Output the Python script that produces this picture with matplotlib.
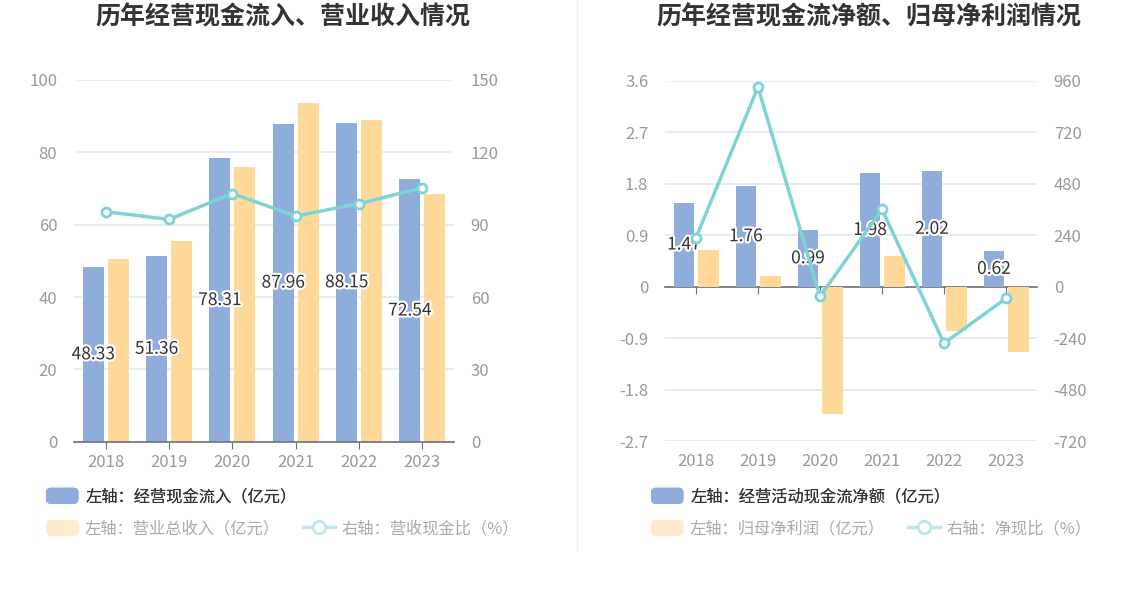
import matplotlib
matplotlib.use("Agg")
import matplotlib.pyplot as plt
import matplotlib.patheffects as pe
from matplotlib.patches import Patch, FancyBboxPatch
from matplotlib.lines import Line2D
from matplotlib.legend_handler import HandlerPatch
import numpy as np

plt.rcParams['font.family'] = ['Noto Sans CJK SC', 'DejaVu Sans']

years = ['2018', '2019', '2020', '2021', '2022', '2023']

# Left chart
cash_inflow = [48.33, 51.36, 78.31, 87.96, 88.15, 72.54]       # 亿元
revenue = [50.4, 55.5, 75.9, 93.6, 88.9, 68.6]                 # 亿元
cash_ratio = [95.4, 92.2, 102.9, 93.6, 98.7, 105.3]            # %

# Right chart
op_cash_net = [1.47, 1.76, 0.99, 1.98, 2.02, 0.62]             # 亿元
net_profit = [0.636, 0.187, -2.23, 0.54, -0.77, -1.14]         # 亿元
net_cash_ratio = [228, 930, -46, 360, -264, -55]               # %

left_ticks_l = [0, 20, 40, 60, 80, 100]
right_ticks_l = [0, 30, 60, 90, 120, 150]
left_ticks_r = [-2.7, -1.8, -0.9, 0, 0.9, 1.8, 2.7, 3.6]
right_ticks_r = [-720, -480, -240, 0, 240, 480, 720, 960]

BLUE = '#8FADDB'
ORANGE = '#FFD99A'
TEAL = '#7ED4D4'
GRID = '#E3E8F2'
TICKC = '#999999'
AXC = '#6E7079'

W, H = 1148, 589
fig = plt.figure(figsize=(W / 100, H / 100), dpi=100)
fig.patch.set_facecolor('white')


def px_rect(l, t, r, b):
    return [l / W, 1 - b / H, (r - l) / W, (b - t) / H]


halo = [pe.withStroke(linewidth=3, foreground='white')]
x = np.arange(len(years))


def style_axes(ax, ax2, lticks, rticks):
    for a in (ax, ax2):
        for s in a.spines.values():
            s.set_visible(False)
    ax.set_yticks(lticks)
    ax.set_yticklabels([f'{v:g}' for v in lticks])
    ax2.set_yticks(rticks)
    ax2.set_yticklabels([f'{v:g}' for v in rticks])
    ax.set_ylim(lticks[0], lticks[-1])
    ax2.set_ylim(rticks[0], rticks[-1])
    ax.tick_params(axis='y', length=0, pad=12, labelsize=12, labelcolor=TICKC)
    ax2.tick_params(axis='y', length=0, pad=12, labelsize=12, labelcolor=TICKC)
    ax.grid(axis='y', color=GRID, linewidth=1.2)
    ax.set_axisbelow(True)
    ax.set_xlim(-0.5, len(years) - 0.5)


# ---------- Left chart ----------
axL = fig.add_axes(px_rect(74, 80, 454, 441.7))
axL2 = axL.twinx()
axL.bar(x - 0.197, cash_inflow, width=0.336, color=BLUE, zorder=2)
axL.bar(x + 0.197, revenue, width=0.336, color=ORANGE, zorder=2)
style_axes(axL, axL2, left_ticks_l, right_ticks_l)
axL.spines['bottom'].set_visible(True)
axL.spines['bottom'].set_color(AXC)
axL.spines['bottom'].set_linewidth(1.2)
axL.set_xticks(x)
axL.set_xticklabels(years)
axL.tick_params(axis='x', length=5, color=AXC, pad=4, labelsize=12, labelcolor=TICKC)
axL2.plot(x, cash_ratio, color=TEAL, linewidth=2.5, marker='o', markersize=6.5,
          markerfacecolor='white', markeredgecolor=TEAL, markeredgewidth=2, zorder=3)
scale_l = right_ticks_l[-1] / left_ticks_l[-1]
for xi, v in zip(x, cash_inflow):
    axL2.text(xi - 0.197, v / 2 * scale_l, f'{v:.2f}',
              ha='center', va='center', fontsize=12.5, color='#333333',
              path_effects=halo, zorder=5)

# ---------- Right chart ----------
axR = fig.add_axes(px_rect(665, 80.7, 1037, 441))
axR2 = axR.twinx()
axR.bar(x - 0.195, op_cash_net, width=0.33, color=BLUE, zorder=2)
axR.bar(x + 0.205, net_profit, width=0.33, color=ORANGE, zorder=2)
style_axes(axR, axR2, left_ticks_r, right_ticks_r)
axR.spines['bottom'].set_visible(True)
axR.spines['bottom'].set_position(('data', 0))
axR.spines['bottom'].set_color(AXC)
axR.spines['bottom'].set_linewidth(1.2)
axR.spines['bottom'].set_zorder(1.5)
axR.set_xticks(x)
axR.tick_params(axis='x', length=5, color=AXC, labelbottom=False)
sec = axR.secondary_xaxis('bottom')
sec.set_xticks(x)
sec.set_xticklabels(years)
sec.tick_params(axis='x', length=0, pad=9, labelsize=12, labelcolor=TICKC)
for s in sec.spines.values():
    s.set_visible(False)
axR2.plot(x, net_cash_ratio, color=TEAL, linewidth=2.5, marker='o', markersize=6.5,
          markerfacecolor='white', markeredgecolor=TEAL, markeredgewidth=2, zorder=3)
scale_r = right_ticks_r[-1] / left_ticks_r[-1]
for xi, v in zip(x, op_cash_net):
    axR2.text(xi - 0.195, v / 2 * scale_r, f'{v:.2f}', ha='center', va='center',
              fontsize=12.5, color='#333333', path_effects=halo, zorder=2)

# ---------- Titles ----------
fig.text(283 / W, 1 - 17.5 / H, '历年经营现金流入、营业收入情况', ha='center', va='center',
         fontsize=18, fontweight='bold', color='#333333')
fig.text(869 / W, 1 - 17.5 / H, '历年经营现金流净额、归母净利润情况', ha='center', va='center',
         fontsize=18, fontweight='bold', color='#333333')

# separator
fig.add_artist(Line2D([577 / W, 577 / W], [1 - 550 / H, 1.0], color='#EEEEEE', linewidth=1))

# ---------- Legends ----------
FADE_OR = '#FFEBCB'
FADE_TEAL = '#BDE8E8'
FADE_TXT = '#AAAAAA'


class RoundBoxHandler(HandlerPatch):
    def create_artists(self, legend, orig_handle, xdescent, ydescent, width, height, fontsize, trans):
        p = FancyBboxPatch((-xdescent, -ydescent), width, height,
                           boxstyle='round,pad=0,rounding_size=3.5',
                           facecolor=orig_handle.get_facecolor(), edgecolor='none',
                           transform=trans)
        return [p]


LFS = 11.7


def make_legends(x0, label1, label2, label3):
    h1 = Patch(facecolor=BLUE, edgecolor='none')
    lg1 = fig.legend([h1], [label1], loc='center left',
                     bbox_to_anchor=(x0 / W, 1 - 496.5 / H), frameon=False,
                     fontsize=LFS, handlelength=2.0, handleheight=1.15,
                     handletextpad=0.45, borderpad=0, borderaxespad=0,
                     handler_map={Patch: RoundBoxHandler()})
    for t in lg1.get_texts():
        t.set_color('#333333')
    h2 = Patch(facecolor=FADE_OR, edgecolor='none')
    h3 = Line2D([], [], color=FADE_TEAL, linewidth=2.5, marker='o', markersize=9,
                markerfacecolor='white', markeredgecolor=FADE_TEAL, markeredgewidth=2)
    lg2 = fig.legend([h2, h3], [label2, label3], loc='center left', ncol=2,
                     bbox_to_anchor=(x0 / W, 1 - 528.5 / H), frameon=False,
                     fontsize=LFS, handlelength=2.0, handleheight=1.15,
                     handletextpad=0.4, columnspacing=1.4, borderpad=0, borderaxespad=0,
                     handler_map={Patch: RoundBoxHandler()})
    for t in lg2.get_texts():
        t.set_color(FADE_TXT)
    fig.add_artist(lg1)


make_legends(46, '左轴：经营现金流入（亿元）', '左轴：营业总收入（亿元）', '右轴：营收现金比（%）')
make_legends(651, '左轴：经营活动现金流净额（亿元）', '左轴：归母净利润（亿元）', '右轴：净现比（%）')

fig.savefig('out.png', dpi=100, facecolor='white')
